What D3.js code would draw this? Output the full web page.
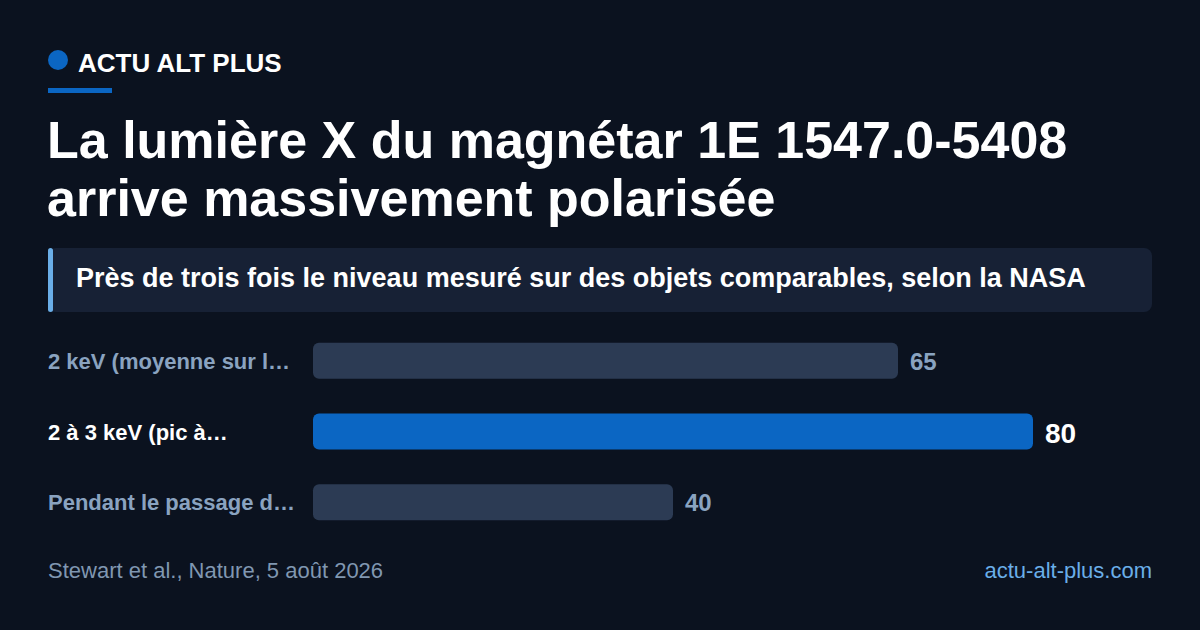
<!DOCTYPE html>
<html>
<head>
<meta charset="UTF-8">
<title>La lumière X du magnétar 1E 1547.0-5408</title>
<script src="https://d3js.org/d3.v7.min.js"></script>
<style>
	html, body { margin: 0; padding: 0; background: #0b121f; }
	svg { display: block; font-family: "Liberation Sans", Arial, Helvetica, sans-serif; }
</style>
</head>
<body>
<div id="chart"></div>
<script>

// Data
const categories = ["2 keV (moyenne sur l…", "2 à 3 keV (pic à…", "Pendant le passage d…"];
const values = [65, 80, 40];
const highlighted = [false, true, false];

const brand = "ACTU ALT PLUS";
const titleLines = ["La lumière X du magnétar 1E 1547.0-5408", "arrive massivement polarisée"];
const subtitle = "Près de trois fois le niveau mesuré sur des objets comparables, selon la NASA";
const source = "Stewart et al., Nature, 5 août 2026";
const site = "actu-alt-plus.com";

const W = 1200, H = 630;

let svg = d3.select("#chart")
	.append("svg")
	.attr("width", W)
	.attr("height", H);

svg.append("rect")
	.attr("width", W)
	.attr("height", H)
	.attr("fill", "#0b121f");

// Header
svg.append("circle")
	.attr("cx", 58).attr("cy", 60).attr("r", 10)
	.attr("fill", "#0b66c3");

svg.append("text")
	.attr("x", 78).attr("y", 72)
	.attr("fill", "#ffffff")
	.attr("font-size", 26)
	.attr("font-weight", "bold")
	.text(brand);

svg.append("rect")
	.attr("x", 48).attr("y", 88)
	.attr("width", 64).attr("height", 5)
	.attr("fill", "#0b66c3");

// Title
svg.append("g")
	.selectAll("text")
	.data(titleLines)
	.enter()
	.append("text")
	.attr("x", 47)
	.attr("y", (d, i) => 158 + i * 58)
	.attr("fill", "#ffffff")
	.attr("font-size", 52)
	.attr("font-weight", "bold")
	.text(d => d);

// Subtitle box
svg.append("rect")
	.attr("x", 48).attr("y", 248)
	.attr("width", 1104).attr("height", 64)
	.attr("rx", 8)
	.attr("fill", "#172135");

svg.append("rect")
	.attr("x", 48).attr("y", 248)
	.attr("width", 5).attr("height", 64)
	.attr("rx", 2.5)
	.attr("fill", "#6aaee8");

svg.append("text")
	.attr("x", 76).attr("y", 287)
	.attr("fill", "#ffffff")
	.attr("font-size", 27)
	.attr("font-weight", "bold")
	.text(subtitle);

// Bars
let x = d3.scaleLinear()
	.domain([0, d3.max(values)])
	.range([313, 1033]);

let y = d3.scaleBand()
	.domain(d3.range(categories.length))
	.range([325, 538])
	.paddingInner(0.49)
	.paddingOuter(0.25);

let rows = svg.append("g")
	.attr("id", "bars")
	.selectAll("g")
	.data(values)
	.enter()
	.append("g");

rows.append("rect")
	.attr("x", x(0))
	.attr("y", (d, i) => y(i))
	.attr("width", d => x(d) - x(0))
	.attr("height", y.bandwidth())
	.attr("rx", 6)
	.attr("fill", (d, i) => highlighted[i] ? "#0b66c3" : "#2c3b54");

rows.append("text")
	.attr("x", 48)
	.attr("y", (d, i) => y(i) + y.bandwidth() / 2 + 8)
	.attr("fill", (d, i) => highlighted[i] ? "#ffffff" : "#8aa3c0")
	.attr("font-size", 22)
	.attr("font-weight", "bold")
	.text((d, i) => categories[i]);

rows.append("text")
	.attr("x", d => x(d) + 12)
	.attr("y", (d, i) => y(i) + y.bandwidth() / 2 + (highlighted[i] ? 11 : 9))
	.attr("fill", (d, i) => highlighted[i] ? "#ffffff" : "#8aa3c0")
	.attr("font-size", (d, i) => highlighted[i] ? 28 : 24)
	.attr("font-weight", "bold")
	.text(d => d);

// Footer
svg.append("text")
	.attr("x", 48).attr("y", 578)
	.attr("fill", "#8097b1")
	.attr("font-size", 22)
	.text(source);

svg.append("text")
	.attr("x", 1152).attr("y", 578)
	.attr("text-anchor", "end")
	.attr("fill", "#6aaee8")
	.attr("font-size", 22)
	.text(site);

</script>
</body>
</html>
